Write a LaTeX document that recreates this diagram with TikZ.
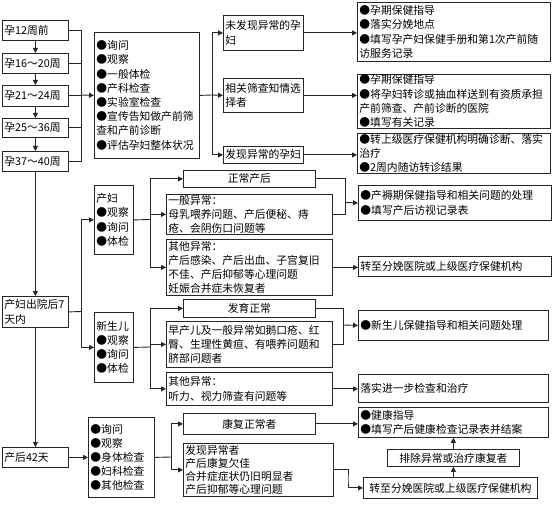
\documentclass[tikz,border=0pt]{standalone}
\usepackage{fontspec}
\setmainfont{Noto Sans CJK SC}
\XeTeXlinebreaklocale "zh"
\usetikzlibrary{arrows.meta,calc}
\newcommand\bx[7][]{%
  \pgfmathsetmacro\bxh{#6-#4}%
  \pgfmathsetmacro\bxt{#5-#3-4}%
  \node[box,#1,text width=\bxt pt,minimum height=\bxh pt] (#2) at (#3,#4) {#7};}
\tikzset{
  box/.style={draw=black!85,line width=0.8pt,inner xsep=2pt,inner ysep=0.5pt,
    anchor=north west,align=left,font=\fontsize{10.8}{14.2}\selectfont},
  ctr/.style={align=center},
  ln/.style={draw=black!85,line width=0.9pt},
  arr/.style={ln,-{Triangle[length=5pt,width=5pt]}}
}
\begin{document}
\begin{tikzpicture}[x=1pt,y=-1pt]
\useasboundingbox (0,0) rectangle (554,513);
% left column
\bx{p12}{2}{20}{68}{40}{孕12周前}
\bx{p16}{2}{53}{68}{73}{孕16～20周}
\bx{p21}{2}{85}{68}{106}{孕21～24周}
\bx{p25}{2}{118}{68}{137}{孕25～36周}
\bx{p37}{2}{151}{68}{171}{孕37～40周}
\bx{pd7}{2}{296}{68}{327}{产妇出院后7\\天内}
\bx{pd42}{2}{447}{68}{467}{产后42天}
% first section
\bx{big}{94}{32}{199}{158}{●询问\\●观察\\●一般体检\\●产科检查\\●实验室检查\\●宣传告知做产前筛\\查和产前诊断\\●评估孕妇整体状况}
\bx{n1}{223}{15}{303}{50}{未发现异常的孕\\妇}
\bx{n2}{223}{78}{303}{112}{相关筛查知情选\\择者}
\bx{n3}{223}{146}{303}{163}{发现异常的孕妇}
\bx{r1}{357}{2}{550}{61}{●孕期保健指导\\●落实分娩地点\\●填写孕产妇保健手册和第1次产前随\\访服务记录}
\bx{r2}{357}{74}{550}{127}{●孕期保健指导\\●将孕妇转诊或抽血样送到有资质承担\\产前筛查、产前诊断的医院\\●填写有关记录}
\bx{r3}{357}{133}{550}{173}{●转上级医疗保健机构明确诊断、落实\\治疗\\●2周内随访转诊结果}
% second section
\bx{cf}{94}{185}{133}{254}{产妇\\●观察\\●询问\\●体检}
\bx{xse}{94}{312}{133}{382}{新生儿\\●观察\\●询问\\●体检}
\bx[ctr]{zc}{183}{170}{315}{187}{正常产后}
\bx{yb}{166}{194}{332}{234}{一般异常：\\母乳喂养问题、产后便秘、痔\\疮、会阴伤口问题等}
\bx{qt1}{166}{239}{332}{295}{其他异常：\\产后感染、产后出血、子宫复旧\\不佳、产后抑郁等心理问题\\妊娠合并症未恢复者}
\bx{r4}{358}{185}{551}{220}{●产褥期保健指导和相关问题的处理\\●填写产后访视记录表}
\bx{r5}{358}{256}{551}{276}{转至分娩医院或上级医疗保健机构}
\bx[ctr]{fy}{183}{299}{315}{317}{发育正常}
\bx{zc2}{166}{321}{332}{367}{早产儿及一般异常如鹅口疮、红\\臀、生理性黄疸、有喂养问题和\\脐部问题者}
\bx{qt2}{166}{372}{332}{405}{其他异常：\\听力、视力筛查有问题等}
\bx{r6}{358}{310}{548}{340}{●新生儿保健指导和相关问题处理}
\bx{r7}{358}{374}{548}{402}{落实进一步检查和治疗}
% third section
\bx{q42}{88}{417}{154}{497}{●询问\\●观察\\●身体检查\\●妇科检查\\●其他检查}
\bx[ctr]{kf}{183}{413}{315}{434}{康复正常者}
\bx[font=\fontsize{10.8}{13}\selectfont]{fx}{183}{443}{333}{496}{发现异常者\\产后康复欠佳\\合并症症状仍旧明显者\\产后抑郁等心理问题}
\bx{r8}{358}{407}{548}{437}{●健康指导\\●填写产后健康检查记录表并结案}
\bx[ctr]{r9}{387}{449}{519}{466}{排除异常或治疗康复者}
\bx[ctr]{r10}{363}{477}{537}{498}{转至分娩医院或上级医疗保健机构}
% junctions
\coordinate (jA) at (81,95);
\coordinate (jB) at (212,95);
\coordinate (jC) at (81,311.5);
\coordinate (jD) at (150,219.5);
\coordinate (jE) at (345,202.5);
\coordinate (jF) at (150,347);
\coordinate (jG) at (343,325);
\coordinate (jH) at (171,457);
\coordinate (jI) at (348,480);
% connectors section 1
\draw[arr] (p12) -- (p16);
\draw[arr] (p16) -- (p21);
\draw[arr] (p21) -- (p25);
\draw[arr] (p25) -- (p37);
\foreach \b in {p12,p16,p21,p25,p37} \draw[ln] (\b.east) -| (jA);
\draw[arr] (jA) -- (big.west);
\draw[ln] (big.east) -- (jB);
\draw[arr] (jB) |- (n1.west);
\draw[arr] (jB) -- (n2.west);
\draw[arr] (jB) |- (n3.west);
\draw[arr] (n1.east) -- (n1.east -| r1.west);
\draw[arr] (n2.east) -- (n2.east -| r2.west);
\draw[arr] (n3.east) -- (n3.east -| r3.west);
% section 2
\draw[arr] (p37) -- (pd7);
\draw[ln] (pd7.east) -- (jC);
\draw[arr] (jC) |- (cf.west);
\draw[arr] (jC) |- (xse.west);
\draw[ln] (cf.east) -- (jD);
\draw[arr] (jD) |- (zc.west);
\draw[arr] (jD) |- (yb.west);
\draw[arr] (jD) |- (qt1.west);
\draw[ln] (zc.east) -| (jE);
\draw[ln] (yb.east) -| (jE);
\draw[arr] (jE) -- (r4.west);
\draw[arr] (qt1.east) -- (qt1.east -| r5.west);
\draw[ln] (xse.east) -- (jF);
\draw[arr] (jF) |- (fy.west);
\draw[arr] (jF) |- (zc2.west);
\draw[arr] (jF) |- (qt2.west);
\draw[ln] (fy.east) -| (jG);
\draw[ln] (zc2.east) -| (jG);
\draw[arr] (jG) -- (r6.west);
\draw[arr] (qt2.east) -- (qt2.east -| r7.west);
% section 3
\draw[arr] (pd7) -- (pd42);
\draw[arr] (pd42.east) -- (pd42.east -| q42.west);
\draw[ln] (q42.east) -- (jH);
\draw[arr] (jH) |- (kf.west);
\draw[arr] (jH) |- (fx.west);
\draw[arr] (kf.east) -- (kf.east -| r8.west);
\draw[arr] (fx.east) -| (jI) |- (r10.west);
\draw[arr] (r9.south |- r10.north) -- (r9.south);
\draw[arr] (r9.north) -- (r9.north |- r8.south);
\end{tikzpicture}
\end{document}
